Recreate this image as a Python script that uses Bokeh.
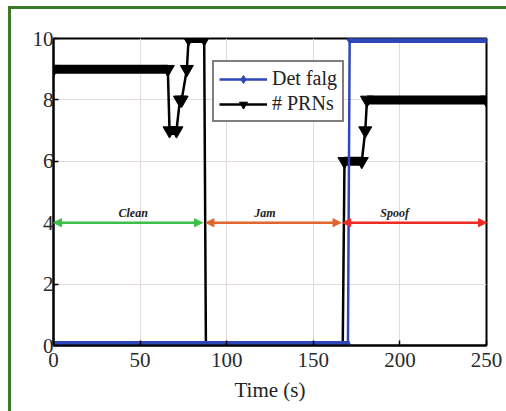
from bokeh.plotting import figure
from bokeh.models import (Range1d, ColumnDataSource, Arrow, NormalHead, Legend, LegendItem,
                          FixedTicker)
from bokeh.core.properties import value
from bokeh.embed import file_html
from bokeh.resources import INLINE

# ---- data ----
det_t = [0, 170, 171, 250]
det_v = [0, 0, 10, 10]

prn_t = [0, 66, 67, 71, 73, 74, 77, 78, 87, 88, 167, 168, 178, 180, 181, 250]
prn_v = [9, 9, 7, 7, 8, 8, 9, 10, 10, 0, 0, 6, 6, 7, 8, 8]

phase_names = ["Clean", "Jam", "Spoof"]
phase_start = [0, 88, 167]
phase_end = [86, 166, 250]
phase_label_x = [46, 122, 197]
phase_level = [4, 4, 4]
phase_colors = ["#3cbf4a", "#e0662e", "#ee2b22"]

x_ticks = [0, 50, 100, 150, 200, 250]
y_ticks = [0, 2, 4, 6, 8, 10]

SERIF = "Liberation Serif"
BLUE = "#2f47b8"
GREEN = "#3b7a28"

p = figure(width=506, height=411, output_backend="svg", toolbar_location=None,
           x_range=Range1d(0, 250), y_range=Range1d(0, 10),
           min_border_left=53, min_border_right=20, min_border_top=38, min_border_bottom=66)
p.background_fill_color = "white"
p.border_fill_color = None
p.styles = {
    "background-image": (f"linear-gradient({GREEN},{GREEN}), linear-gradient({GREEN},{GREEN})"),
    "background-position": "8px 6px, 8px 6px",
    "background-size": "3px 405px, 498px 3px",
    "background-repeat": "no-repeat",
    "background-color": "white",
}
p.outline_line_color = "black"
p.outline_line_width = 2

for ax in (p.xaxis[0], p.yaxis[0]):
    ax.major_label_text_font = SERIF
    ax.major_label_text_font_size = "21px"
    ax.major_label_text_color = "#2a2a2a"
    ax.axis_line_color = "black"
    ax.axis_line_width = 2
    ax.major_tick_in = 5
    ax.major_tick_out = 0
    ax.minor_tick_line_color = None
    ax.major_tick_line_color = "black"
    ax.major_tick_line_width = 1.5
p.xaxis[0].ticker = FixedTicker(ticks=x_ticks)
p.yaxis[0].ticker = FixedTicker(ticks=y_ticks)
p.xaxis[0].major_label_standoff = 7
p.yaxis[0].major_label_standoff = 0
p.xaxis[0].axis_label = "Time (s)"
p.xaxis[0].axis_label_text_font = SERIF
p.xaxis[0].axis_label_text_font_size = "21px"
p.xaxis[0].axis_label_text_font_style = "normal"
p.xaxis[0].axis_label_text_color = "#222222"
p.xaxis[0].axis_label_standoff = 8

p.xgrid.ticker = FixedTicker(ticks=x_ticks)
p.ygrid.ticker = FixedTicker(ticks=y_ticks)
p.grid.grid_line_color = "#e3dada"
p.grid.grid_line_width = 1

# ---- phase arrows ----
for i in range(len(phase_names)):
    p.add_layout(Arrow(
        start=NormalHead(size=8, fill_color=phase_colors[i], line_color=phase_colors[i]),
        end=NormalHead(size=8, fill_color=phase_colors[i], line_color=phase_colors[i]),
        x_start=phase_start[i], x_end=phase_end[i], y_start=phase_level[i], y_end=phase_level[i],
        line_color=phase_colors[i], line_width=2.5))
lab_src = ColumnDataSource(dict(x=phase_label_x, y=[v + 0.33 for v in phase_level], t=phase_names))
p.text("x", "y", "t", source=lab_src, text_font=value(SERIF), text_font_style="bold italic",
       text_font_size="12px", text_align="center", text_baseline="middle", text_color="#222222")

# ---- PRN series ----
def bands(ts, vs):
    x0, x1, y = [], [], []
    for i in range(len(ts) - 1):
        if vs[i] == vs[i + 1]:
            x0.append(ts[i]); x1.append(ts[i + 1]); y.append(vs[i])
    return x0, x1, y

bx0, bx1, by = bands(prn_t, prn_v)
p.segment(bx0, by, bx1, by, line_color="black", line_width=9)
prn_line = p.line(prn_t, prn_v, line_color="black", line_width=2.5)
prn_mark = p.scatter(prn_t, prn_v, marker="inverted_triangle", size=13,
                     fill_color="black", line_color="black")

# ---- Detection flag ----
dx0, dx1, dy = bands(det_t, det_v)
p.segment(dx0, dy, dx1, dy, line_color=BLUE, line_width=9)
det_line = p.line(det_t, det_v, line_color=BLUE, line_width=2.5)
det_mark = p.scatter(det_t, det_v, marker="diamond", size=10, fill_color=BLUE, line_color=BLUE)

legend = Legend(items=[LegendItem(label="Det falg", renderers=[det_line, det_mark]),
                       LegendItem(label="# PRNs", renderers=[prn_line, prn_mark])],
                location=(159, 223))
legend.label_text_font = SERIF
legend.label_text_font_size = "20px"
legend.label_text_color = "#222222"
legend.border_line_color = "black"
legend.border_line_width = 2
legend.background_fill_color = "white"
legend.background_fill_alpha = 1
legend.glyph_width = 48
legend.glyph_height = 20
legend.label_height = 20
legend.spacing = 2
legend.padding = 5
legend.margin = 0
legend.label_standoff = 5
p.add_layout(legend)

open("out.html", "w").write(file_html(p, INLINE))
